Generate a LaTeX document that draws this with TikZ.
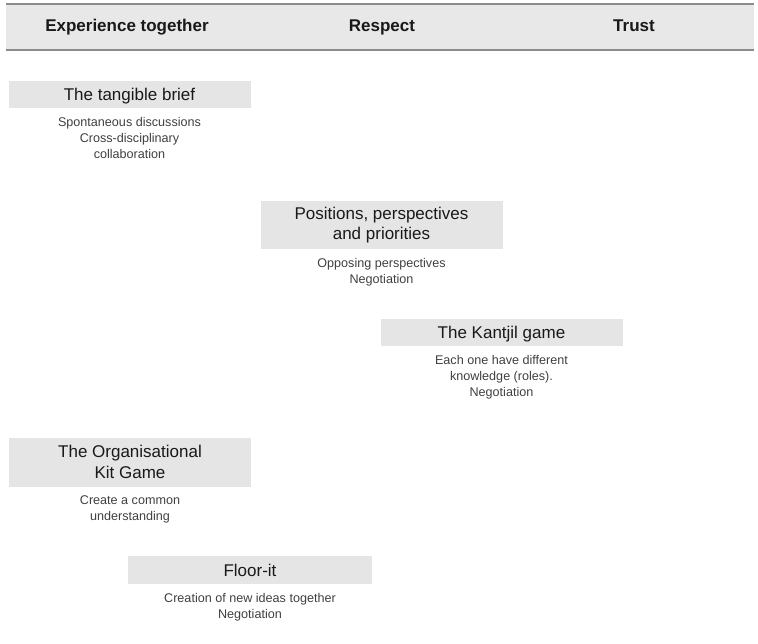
\documentclass[tikz,border=0pt]{standalone}
\usepackage{fontspec}
\setmainfont{Liberation Sans}
\usetikzlibrary{positioning}

\begin{document}
\begin{tikzpicture}[
        x = 1pt, y = -1pt,
        heading/.style = {anchor=base, font=\bfseries\fontsize{17}{20}\selectfont, text=black!90},
        title2/.style = {fill=black!10, minimum width=242pt, minimum height=48pt, inner sep=0pt, outer sep=0pt,
                         align=center, text=black!90, font=\fontsize{17}{20.5}\selectfont},
        title/.style = {title2, minimum height=27pt, text height=12.2pt, text depth=0pt},
        notes/.style = {below=9pt of #1, inner sep=0pt, align=center, text=black!75,
                        font=\fontsize{12.6}{16}\selectfont}
    ]
    \useasboundingbox (0,0) rectangle (758,644);

    % header band
    \fill[black!9] (6,4) rectangle (754,50);
    \draw[line width=1.5pt, black!45] (6,4) -- (754,4);
    \draw[line width=1.5pt, black!45] (6,50) -- (754,50);

    \node[heading] (hexp) at (127,32) {Experience together};
    \node[heading] (hresp) at (382,32) {Respect};
    \node[heading] (htrust) at (634,32) {Trust};

    \coordinate (b1) at (129.5,94.5);
    \coordinate (b2) at (381.5,225);
    \coordinate (b3) at (501.5,332.5);
    \coordinate (b4) at (130,462);
    \coordinate (b5) at (250,570);

    \node[title] (brief) at (b1) {The tangible brief};
    \node[notes=brief] (briefnotes) {Spontaneous discussions\\Cross-disciplinary\\collaboration};

    \node[title2] (positions) at (b2) {Positions, perspectives\\and priorities};
    \node[notes=positions] (positionsnotes) {Opposing perspectives\\Negotiation};

    \node[title] (kantjil) at (b3) {The Kantjil game};
    \node[notes=kantjil] (kantjilnotes) {Each one have different\\knowledge (roles).\\Negotiation};

    \node[title2, minimum height=49pt] (orgkit) at (b4) {The Organisational\\Kit Game};
    \node[notes=orgkit] (orgkitnotes) {Create a common\\understanding};

    \node[title, minimum width=244pt, minimum height=28pt] (floorit) at (b5) {Floor-it};
    \node[notes=floorit] (floornotes) {Creation of new ideas together\\Negotiation};
\end{tikzpicture}
\end{document}
